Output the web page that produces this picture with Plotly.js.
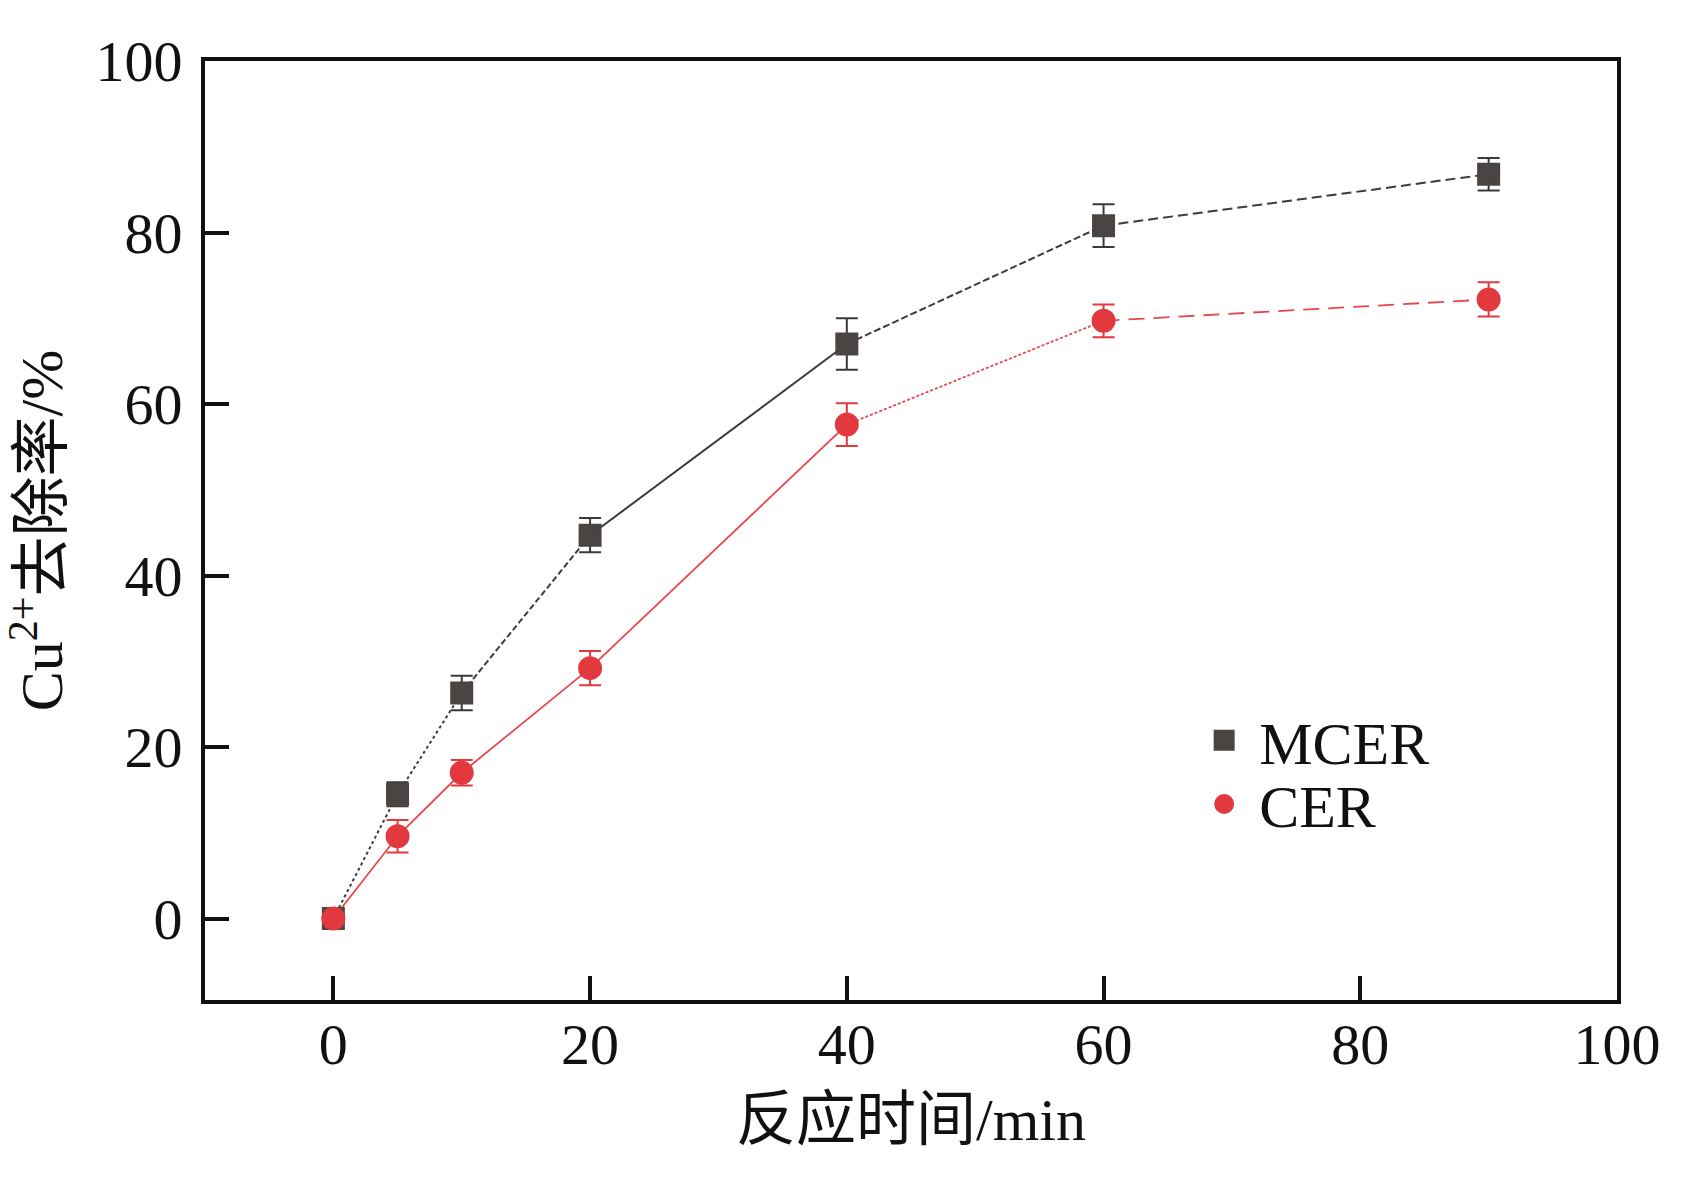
<!DOCTYPE html>
<html>
<head>
<meta charset="utf-8">
<script src="https://cdn.plot.ly/plotly-3.0.1.min.js"></script>
<style>html,body{margin:0;padding:0;background:#fff;}</style>
</head>
<body>
<div id="chart" style="width:1691px;height:1182px;"></div>
<script>
// Data
var time = [0, 5, 10, 20, 40, 60, 90];
var mcer = [0, 14.5, 26.3, 44.7, 67.0, 80.8, 86.8];
var mcerErr = [0, 1.4, 2.0, 2.0, 3.0, 2.5, 1.9];
var cer = [0, 9.6, 17.0, 29.2, 57.6, 69.7, 72.2];
var cerErr = [0, 1.9, 1.5, 2.0, 2.5, 1.9, 2.0];
var seriesNames = ['MCER', 'CER'];
var xTicks = [0, 20, 40, 60, 80, 100];
var yTicks = [0, 20, 40, 60, 80, 100];

// Styles
var mcerColor = '#4a4442';
var mcerLine = '#3c3c3c';
var cerColor = '#e2393f';
var cerLine = '#e8464b';
var mcerDash = ['dot', 'dot', '6px,3px', 'solid', '7px,3px', '10px,5px'];
var cerDash = ['solid', 'solid', 'solid', 'solid', '3px,2px', '16px,9px'];

var serif = 'Liberation Serif, Noto Sans CJK SC, serif';

var traces = [];
function addSegments(ys, color, dashes, width) {
  for (var i = 0; i < time.length - 1; i++) {
    traces.push({
      x: [time[i], time[i + 1]],
      y: [ys[i], ys[i + 1]],
      mode: 'lines',
      type: 'scatter',
      showlegend: false,
      hoverinfo: 'skip',
      line: {color: color, width: width, dash: dashes[i]}
    });
  }
}
addSegments(mcer, mcerLine, mcerDash, 2);
addSegments(cer, cerLine, cerDash, 1.8);

traces.push({
  x: time, y: mcer, name: seriesNames[0], type: 'scatter', mode: 'markers',
  legend: 'legend',
  marker: {symbol: 'square', size: 18, color: mcerColor, line: {color: mcerColor, width: 5}},
  error_y: {type: 'data', array: mcerErr, visible: true, color: '#3a3a3a', thickness: 2, width: 11}
});
traces.push({
  x: time, y: cer, name: seriesNames[1], type: 'scatter', mode: 'markers',
  legend: 'legend2',
  marker: {symbol: 'circle', size: 20, color: cerColor, line: {color: cerColor, width: 4}},
  error_y: {type: 'data', array: cerErr, visible: true, color: cerColor, thickness: 2, width: 11}
});

var axisCommon = {
  showline: true, linewidth: 4, linecolor: '#111', mirror: true,
  ticks: 'inside', ticklen: 24, tickwidth: 4, tickcolor: '#111',
  showgrid: false, zeroline: false,
  tickfont: {family: serif, size: 58, color: '#111'}
};

var legendCommon = {
  xanchor: 'left', yanchor: 'middle', bgcolor: 'rgba(0,0,0,0)',
  font: {family: serif, size: 60, color: '#111'},
  itemwidth: 60, borderwidth: 0
};

var layout = {
  width: 1691, height: 1182,
  margin: {l: 205, r: 74, t: 61, b: 182},
  paper_bgcolor: '#fff', plot_bgcolor: '#fff',
  xaxis: Object.assign({}, axisCommon, {
    range: [-10, 100], tickvals: xTicks, ticktext: xTicks.map(String),
    ticklabelstandoff: -10,
    title: {text: '反应时间/min', font: {family: serif, size: 60, color: '#111'}, standoff: 23}
  }),
  yaxis: Object.assign({}, axisCommon, {
    range: [-9.5, 100], tickvals: yTicks, ticktext: yTicks.map(String),
    ticklabelstandoff: 7,
    title: {text: 'Cu<sup>2+</sup>去除率/%', font: {family: serif, size: 60, color: '#111'}, standoff: 33}
  }),
  legend: Object.assign({}, legendCommon, {x: 0.697, y: 0.2767}),
  legend2: Object.assign({}, legendCommon, {x: 0.697, y: 0.2087}),
  showlegend: true
};

Plotly.newPlot('chart', traces, layout, {displayModeBar: false, staticPlot: true});
</script>
</body>
</html>
